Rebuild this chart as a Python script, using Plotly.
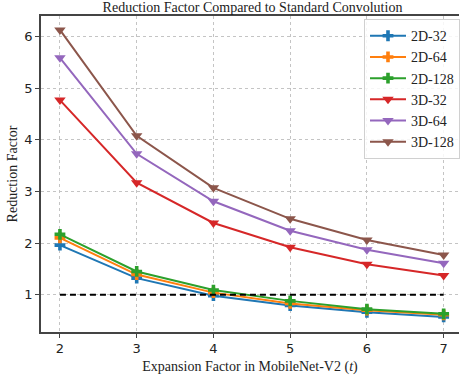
import plotly.graph_objects as go

t_values = [2, 3, 4, 5, 6, 7]
series_names = ["2D-32", "2D-64", "2D-128", "3D-32", "3D-64", "3D-128"]
d2_32 = [1.96, 1.32, 0.98, 0.79, 0.66, 0.57]
d2_64 = [2.10, 1.39, 1.04, 0.83, 0.70, 0.61]
d2_128 = [2.17, 1.45, 1.09, 0.88, 0.72, 0.63]
d3_32 = [4.77, 3.17, 2.39, 1.92, 1.59, 1.37]
d3_64 = [5.59, 3.73, 2.81, 2.24, 1.87, 1.61]
d3_128 = [6.13, 4.08, 3.07, 2.47, 2.06, 1.77]
baseline_x = [2, 7]
baseline_y = [1, 1]

colors = ["#1f77b4", "#ff7f0e", "#2ca02c", "#d62728", "#9467bd", "#8c564b"]
all_series = [d2_32, d2_64, d2_128, d3_32, d3_64, d3_128]

fig = go.Figure()
for i, (name, vals) in enumerate(zip(series_names, all_series)):
    is2d = name.startswith("2D")
    fig.add_trace(go.Scatter(
        x=t_values, y=vals, name=name, mode="lines+markers",
        line=dict(color=colors[i], width=2),
        marker=dict(symbol="cross" if is2d else "triangle-down",
                    size=9 if is2d else 10, color=colors[i], line=dict(width=0)),
    ))

fig.add_trace(go.Scatter(x=baseline_x, y=baseline_y, mode="lines", showlegend=False,
                         line=dict(color="black", width=2, dash="6px,4px"), hoverinfo="skip"))

serif = "Liberation Serif, Times New Roman, serif"
sans = "DejaVu Sans, sans-serif"

fig.update_layout(
    width=460, height=377,
    margin=dict(l=41, r=0, t=16, b=45),
    paper_bgcolor="white", plot_bgcolor="white",
    title=dict(text="Reduction Factor Compared to Standard Convolution",
               font=dict(family=serif, size=14, color="#222"),
               x=(41 + 464) / 2 / 460, xanchor="center", xref="container",
               y=1 - 7 / 377, yanchor="middle", yref="container"),
    legend=dict(x=0.772, y=0.99, xanchor="left", yanchor="top",
                font=dict(family=serif, size=14, color="#222"),
                bgcolor="rgba(255,255,255,0.85)", bordercolor="#d0d0d0", borderwidth=1,
                tracegroupgap=0, itemwidth=36),
    showlegend=True,
)

fig.update_xaxes(
    range=[1.753, 7.2], tickvals=t_values, ticktext=[str(v) for v in t_values],
    showline=True, linecolor="#444", linewidth=1.5, mirror=True,
    ticks="outside", ticklen=4, tickcolor="#444", tickwidth=1.2,
    showgrid=True, gridcolor="#c4c4c4", griddash="dot", gridwidth=1,
    zeroline=False,
    tickfont=dict(family=sans, size=13, color="#222"),
    title=dict(text="Expansion Factor in MobileNet-V2 (<i>t</i>)",
               font=dict(family=serif, size=14, color="#222"), standoff=6),
)
fig.update_yaxes(
    range=[0.277, 6.40], tickvals=[1, 2, 3, 4, 5, 6],
    showline=True, linecolor="#444", linewidth=1.5, mirror=False,
    ticks="outside", ticklen=4, tickcolor="#444", tickwidth=1.2,
    showgrid=True, gridcolor="#c4c4c4", griddash="dot", gridwidth=1,
    zeroline=False,
    tickfont=dict(family=sans, size=13, color="#222"),
    title=dict(text="Reduction Factor", font=dict(family=serif, size=14, color="#222"), standoff=3),
)

fig.write_html("out.html", config={"displayModeBar": False},
               post_script="document.body.style.margin='0';document.body.style.padding='0';document.body.style.overflow='hidden';")
